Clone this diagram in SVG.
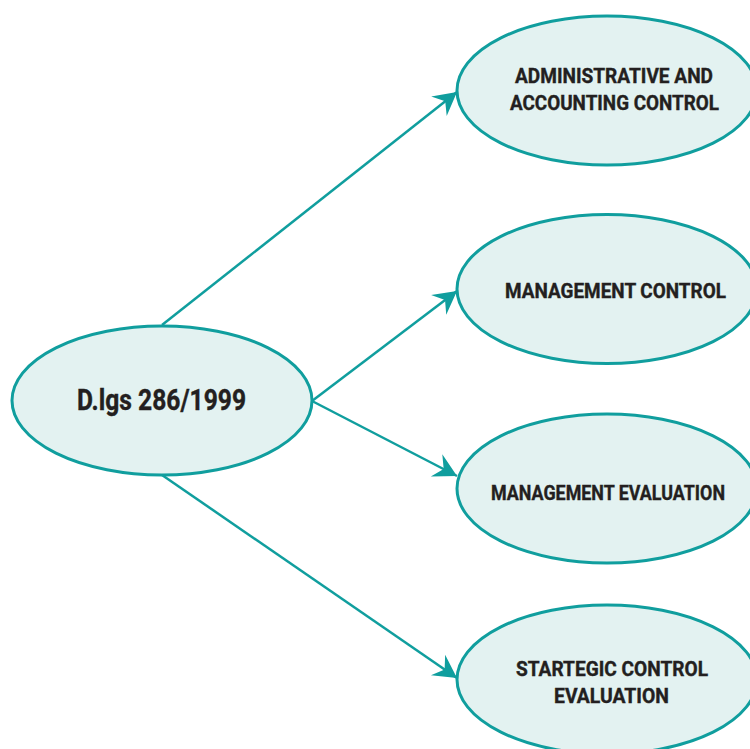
<svg xmlns="http://www.w3.org/2000/svg" width="750" height="749" viewBox="0 0 750 749">
<style>
.node{fill:#e3f2f1;stroke:#109e9e;stroke-width:3}
.lbl{font-family:Roboto,"Liberation Sans",sans-serif;font-weight:700;fill:#231f20;stroke:#231f20;stroke-width:0.4;text-anchor:middle}
.big{font-size:29px}
.sm{font-size:21px}
.edge{stroke:#109e9e;stroke-width:2.5;fill:none;marker-end:url(#ah)}
</style>
<defs>
<marker id="ah" markerUnits="userSpaceOnUse" markerWidth="30" markerHeight="30" viewBox="-25 -15 30 30" refX="0" refY="0" orient="auto">
<path d="M0,0 L-23,-12.5 L-15,0 L-23,12.5 Z" fill="#109e9e"/>
</marker>
</defs>
<rect width="750" height="749" fill="#ffffff"/>
<g id="connectors">
<line class="edge" x1="162" y1="325" x2="457" y2="92"/>
<line class="edge" x1="312" y1="401" x2="457" y2="291"/>
<line class="edge" x1="312" y1="401" x2="457" y2="476"/>
<line class="edge" x1="162" y1="475" x2="457" y2="678"/>
</g>
<g id="n0">
<ellipse class="node" cx="162" cy="400.5" rx="150" ry="74.5"/>
<text class="lbl big" x="161.5" y="410" textLength="169" lengthAdjust="spacingAndGlyphs">D.lgs 286/1999</text>
</g>
<g id="n1">
<ellipse class="node" cx="607" cy="90.5" rx="150" ry="74.5"/>
<text class="lbl sm" x="614" y="83" textLength="198" lengthAdjust="spacingAndGlyphs">ADMINISTRATIVE AND</text>
<text class="lbl sm" x="614.5" y="110" textLength="209" lengthAdjust="spacingAndGlyphs">ACCOUNTING CONTROL</text>
</g>
<g id="n2">
<ellipse class="node" cx="607" cy="289" rx="150" ry="74.5"/>
<text class="lbl sm" x="615.5" y="298" textLength="221" lengthAdjust="spacingAndGlyphs">MANAGEMENT CONTROL</text>
</g>
<g id="n3">
<ellipse class="node" cx="607" cy="488.5" rx="150" ry="74.5"/>
<text class="lbl sm" x="608" y="500" textLength="234" lengthAdjust="spacingAndGlyphs">MANAGEMENT EVALUATION</text>
</g>
<g id="n4">
<ellipse class="node" cx="607" cy="679.5" rx="150" ry="74.5"/>
<text class="lbl sm" x="612" y="676" textLength="192" lengthAdjust="spacingAndGlyphs">STARTEGIC CONTROL</text>
<text class="lbl sm" x="611.5" y="703" textLength="115" lengthAdjust="spacingAndGlyphs">EVALUATION</text>
</g>
</svg>
